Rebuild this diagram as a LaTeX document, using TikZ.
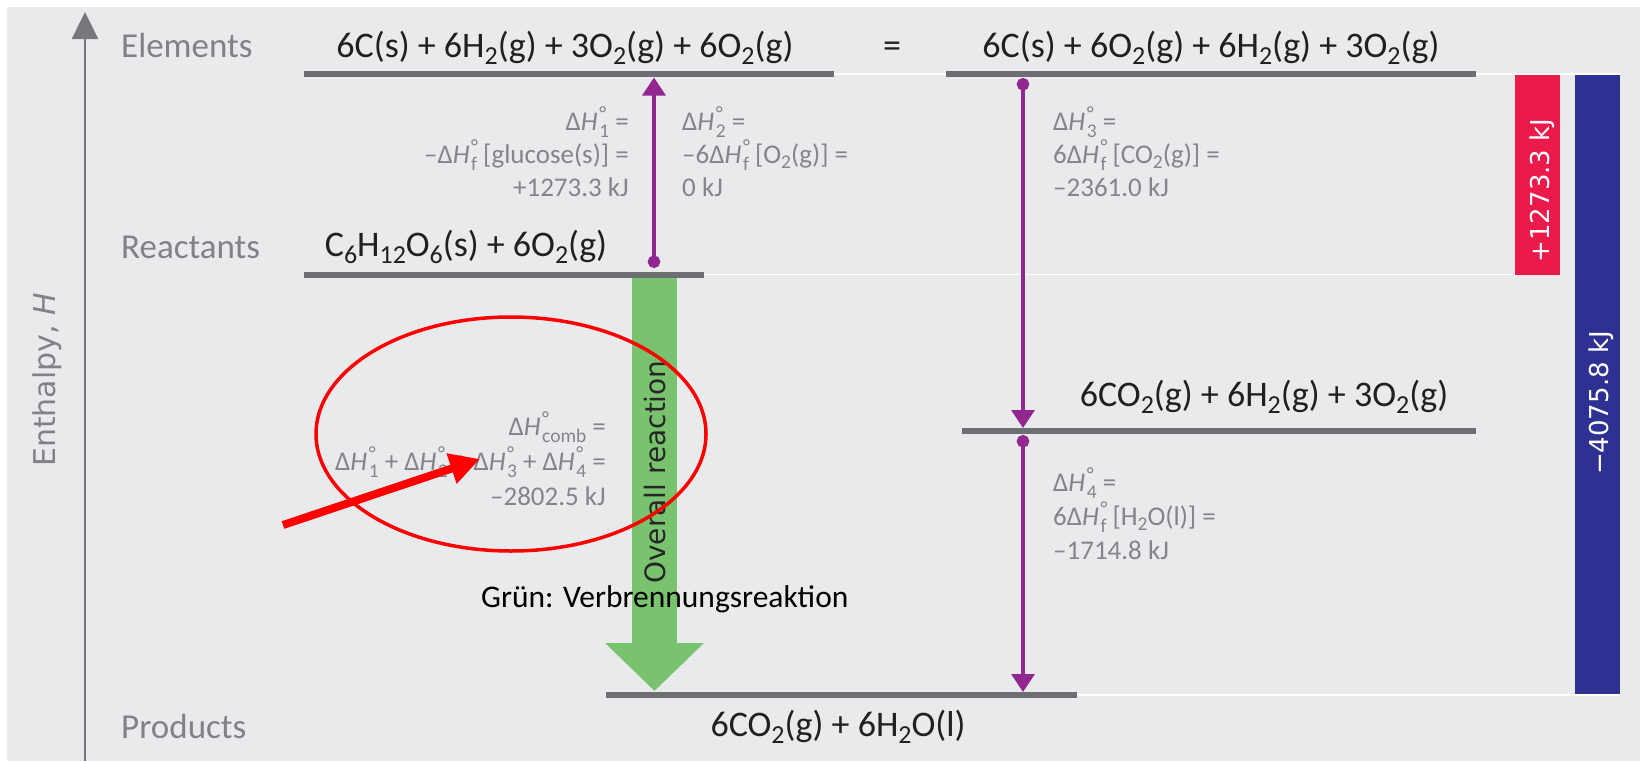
\documentclass[tikz,border=0pt]{standalone}
\usepackage{graphicx}
\usepackage{fontspec}
\setmainfont{Carlito}
\newfontfamily\dejavu{DejaVu Sans}
\usetikzlibrary{arrows.meta}

\definecolor{bgpanel}{HTML}{E9EAEC}
\definecolor{barcol}{HTML}{6D6E71}
\definecolor{lblgray}{HTML}{808285}
\definecolor{formcol}{HTML}{231F20}
\definecolor{dhgray}{HTML}{838588}
\definecolor{dhpurple}{HTML}{92278F}
\definecolor{ovgreen}{HTML}{79C36F}
\definecolor{posred}{HTML}{EC1A4A}
\definecolor{negblue}{HTML}{2E3192}
\definecolor{axisgray}{HTML}{77787B}
\definecolor{annred}{HTML}{FF0000}

% chemical subscript and Delta H with stacked degree sign
\newcommand\chs[1]{\raisebox{-0.22em}{\scalebox{0.72}{#1}}}
\newcommand\dH[1]{Δ\textit{H}\kern0.06em\rlap{\raisebox{0.34em}{\scalebox{0.75}{°}}}\raisebox{-0.28em}{\scalebox{0.72}{#1}}}

\begin{document}
\begin{tikzpicture}[x=1pt, y=-1pt,
  lvl/.style={draw=barcol, line width=6pt},
  guide/.style={draw=white, line width=1.5pt},
  lbl/.style={anchor=base west, inner sep=0pt, text=lblgray, font=\fontsize{35}{40}\selectfont},
  formula/.style={anchor=base, inner sep=0pt, text=formcol, font=\fontsize{36}{40}\selectfont},
  dhl/.style={anchor=base west, inner sep=0pt, text=dhgray, font=\fontsize{27}{30}\selectfont},
  dhr/.style={dhl, anchor=base east},
  dharrow/.style={draw=dhpurple, line width=3.5pt, {Circle[length=12.5pt]}-{Triangle[length=18pt,width=23pt]}},
  overall/.style={draw=ovgreen, line width=45pt, -{Triangle[length=48pt,width=96pt]}},
  barlbl/.style={rotate=90, anchor=base, inner sep=0pt, text=white, font=\dejavu\fontsize{26}{30}\selectfont},
  redarrow/.style={draw=annred, line width=8pt, -{Triangle[length=30pt,width=30pt]}}]
  \useasboundingbox (0,0) rectangle (1640,761);

  % Panel
  \fill[bgpanel] (7,7) rectangle (1640,761);

  % Enthalpy axis
  \coordinate (axbot) at (85,761);
  \coordinate (axtop) at (85,12);
  \draw[draw=axisgray, line width=2.5pt, -{Triangle[length=27pt,width=26pt]}] (axbot) -- (axtop);
  \node[rotate=90, anchor=base, inner sep=0pt, text=lblgray, font=\dejavu\fontsize{30}{34}\selectfont]
    (hlbl) at (55,380) {Enthalpy, \textit{H}};

  % Thin guides to the total bars
  \draw[guide] (834,74) -- (1620,74);
  \draw[guide] (704,274.5) -- (1515,274.5);
  \draw[guide] (1076,695) -- (1620,695);

  % Levels
  \draw[lvl] (304,74) -- (834,74);
  \draw[lvl] (946,74) -- (1476,74);
  \draw[lvl] (304,274.5) -- (704,274.5);
  \draw[lvl] (962,431) -- (1476,431);
  \draw[lvl] (606,695) -- (1077,695);

  % Total bars
  \fill[posred] (1515,75) rectangle (1560,275);
  \fill[negblue] (1575,75) rectangle (1620,694);
  \node[barlbl] (poslbl) at (1549.5,190.5) {+1273.3 kJ};
  \node[barlbl] (neglbl) at (1608,403) {−4075.8 kJ};

  % Overall reaction
  \coordinate (gtop) at (654.5,278);
  \coordinate (gtip) at (654.5,691);
  \draw[overall] (gtop) -- (gtip);
  \node[rotate=90, inner sep=0pt, text=black!85, font=\dejavu\fontsize{28}{32}\selectfont]
    (ovlbl) at (655,472) {Overall reaction};

  % Steps
  \coordinate (s1a) at (654,268);
  \coordinate (s1b) at (654,77.5);
  \coordinate (s3a) at (1023,78);
  \coordinate (s3b) at (1023,428);
  \coordinate (s4a) at (1023,435);
  \coordinate (s4b) at (1023,692);
  \draw[dharrow] (s1a) -- (s1b);
  \draw[dharrow] (s3a) -- (s3b);
  \draw[dharrow] (s4a) -- (s4b);

  % Level labels
  \node[lbl] (elemlbl) at (121,57) {Elements};
  \node[lbl] (reactlbl) at (121,258) {Reactants};
  \node[lbl] (prodlbl) at (121,738) {Products};

  % Formulas
  \node[formula] (elemf) at (565,57) {6C(s) + 6H\chs{2}(g) + 3O\chs{2}(g) + 6O\chs{2}(g)};
  \node[formula] (eqsign) at (892,57) {=};
  \node[formula] (elemg) at (1211,57) {6C(s) + 6O\chs{2}(g) + 6H\chs{2}(g) + 3O\chs{2}(g)};
  \node[formula] (reactf) at (466,256) {C\chs{6}H\chs{12}O\chs{6}(s) + 6O\chs{2}(g)};
  \node[formula] (interf) at (1264,406) {6CO\chs{2}(g) + 6H\chs{2}(g) + 3O\chs{2}(g)};
  \node[formula] (prodf) at (838,736) {6CO\chs{2}(g) + 6H\chs{2}O(l)};

  % Step enthalpies
  \node[dhr] (h1a) at (629,130) {\dH{1} =};
  \node[dhr] (h1b) at (629,163) {–\dH{f} [glucose(s)] =};
  \node[dhr] (h1c) at (629,196) {+1273.3 kJ};
  \node[dhl] (h2a) at (682,130) {\dH{2} =};
  \node[dhl] (h2b) at (682,163) {–6\dH{f} [O\chs{2}(g)] =};
  \node[dhl] (h2c) at (682,196) {0 kJ};
  \node[dhl] (h3a) at (1053,130) {\dH{3} =};
  \node[dhl] (h3b) at (1053,163) {6\dH{f} [CO\chs{2}(g)] =};
  \node[dhl] (h3c) at (1053,196) {–2361.0 kJ};
  \node[dhl] (h4a) at (1053,491) {\dH{4} =};
  \node[dhl] (h4b) at (1053,525) {6\dH{f} [H\chs{2}O(l)] =};
  \node[dhl] (h4c) at (1053,559) {–1714.8 kJ};
  \node[dhr] (hca) at (606,435) {\dH{comb} =};
  \node[dhr] (hcb) at (606,470) {\dH{1} + \dH{2} + \dH{3} + \dH{4} =};
  \node[dhr] (hcc) at (606,505) {–2802.5 kJ};

  % Annotation
  \node[anchor=base west, inner sep=0pt, text=black, font=\fontsize{31.5}{36}\selectfont]
    (gruen) at (481,607) {Grün: Verbrennungsreaktion};
  \draw[draw=annred, line width=3.5pt] (511,434) ellipse [x radius=195pt, y radius=117pt];
  \coordinate (redtail) at (283,525);
  \coordinate (redtip) at (480,459);
  \draw[redarrow] (redtail) -- (redtip);
\end{tikzpicture}
\end{document}
